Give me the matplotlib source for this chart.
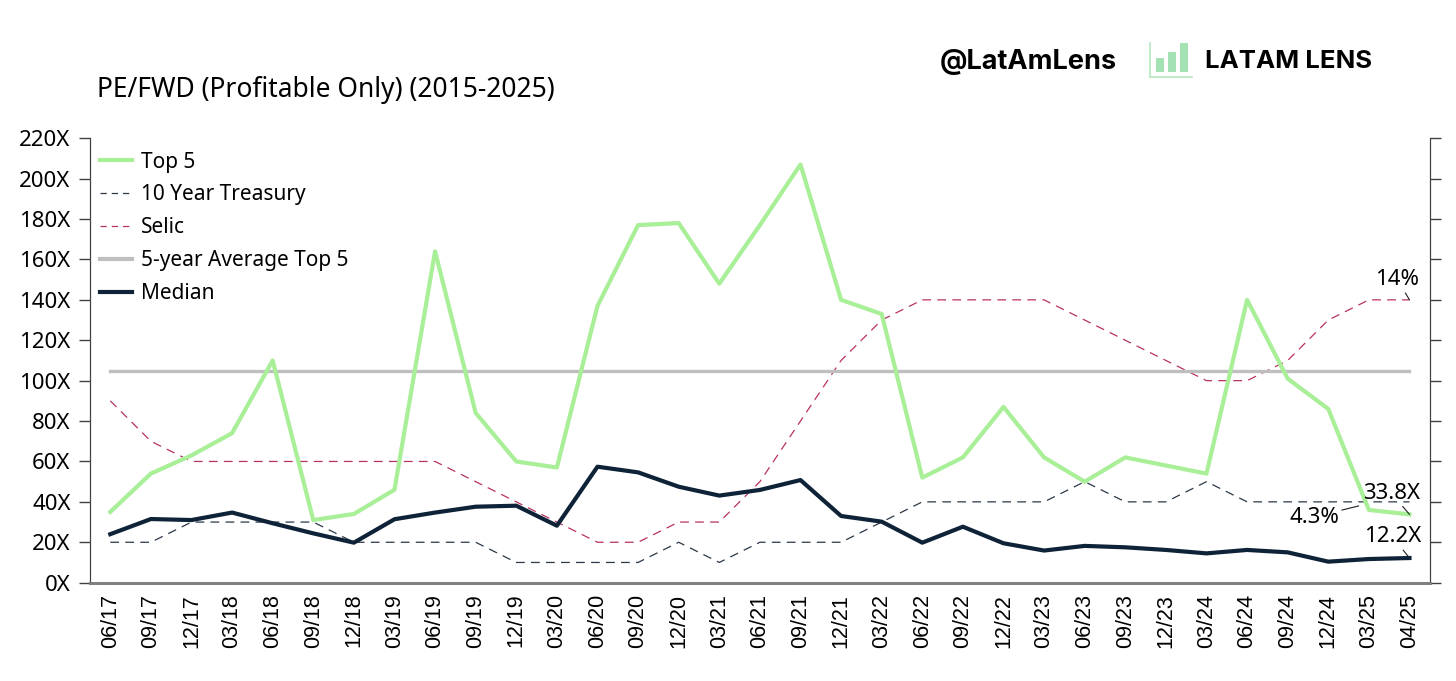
import numpy as np
import matplotlib
matplotlib.use('Agg')
import matplotlib.pyplot as plt
from matplotlib.lines import Line2D

# quarterly points
dates = ['06/17', '09/17', '12/17', '03/18', '06/18', '09/18', '12/18', '03/19',
         '06/19', '09/19', '12/19', '03/20', '06/20', '09/20', '12/20', '03/21',
         '06/21', '09/21', '12/21', '03/22', '06/22', '09/22', '12/22', '03/23',
         '06/23', '09/23', '12/23', '03/24', '06/24', '09/24', '12/24', '03/25',
         '04/25']

top5 = [35, 54, 63, 74, 110, 31, 34, 46, 164, 84, 60, 57, 137, 177, 178, 148,
        177, 207, 140, 133, 52, 62, 87, 62, 50, 62, 58, 54, 140, 101, 86, 36, 33.8]
median = [24, 31.5, 31, 34.7, 29.4, 24.4, 19.8, 31.4, 34.7, 37.6, 38.1, 28.2,
          57.4, 54.6, 47.5, 43.1, 45.9, 50.8, 33, 30.2, 19.8, 27.7, 19.5, 15.9,
          18.2, 17.5, 16.2, 14.5, 16.2, 15, 10.4, 11.7, 12.2]
avg5y = [105] * len(dates)
# rates in %, right axis (unlabelled)
treasury = [2, 2, 3, 3, 3, 3, 2, 2, 2, 2, 1, 1, 1, 1, 2, 1, 2, 2, 2, 3, 4, 4,
            4, 4, 5, 4, 4, 5, 4, 4, 4, 4, 4]
selic = [9, 7, 6, 6, 6, 6, 6, 6, 6, 5, 4, 3, 2, 2, 3, 3, 5, 8, 11, 13, 14, 14,
         14, 14, 13, 12, 11, 10, 10, 11, 13, 14, 14]

c_top5 = '#a8ef98'
c_median = '#0e2238'
c_selic = '#b8325e'
c_tsy = '#2a3848'
c_avg = '#bfbfbf'
font = 'Noto Sans'

fig = plt.figure(figsize=(14.56, 6.81), dpi=100)
ax = fig.add_axes([0.0618, 0.1444, 0.9202, 0.6526])
ax2 = ax.twinx()

x = np.arange(len(dates))
ax.plot(x, avg5y, color=c_avg, lw=2.4, zorder=2)
ax2.plot(x, treasury, color=c_tsy, lw=0.9, dashes=(7, 5))
ax2.plot(x, selic, color=c_selic, lw=0.9, dashes=(7, 5))
ax.plot(x, top5, color=c_top5, lw=3, zorder=3)
ax.plot(x, median, color=c_median, lw=3, zorder=4)

ax.set_zorder(ax2.get_zorder() + 1)
ax.patch.set_visible(False)

ax.set_xlim(-0.5, len(dates) - 0.5)
ax.set_ylim(0, 220)
ax2.set_ylim(0, 22)
ax.set_yticks(np.arange(0, 221, 20))
ax.set_yticklabels([f'{v}X' for v in range(0, 221, 20)], fontsize=16, family=font)
ax2.set_yticks(np.arange(0, 23, 2))
ax2.set_yticklabels([])
ax.set_xticks(x)
ax.set_xticklabels(dates, rotation=90, fontsize=15.5, family='Liberation Sans')
ax.tick_params(axis='x', length=0, pad=8)
ax.tick_params(axis='y', length=8, width=1, color='#404040', pad=6)
ax2.tick_params(axis='y', length=8, width=1, color='#404040')

for a in (ax, ax2):
    a.spines['top'].set_visible(False)
    a.spines['left'].set_color('#404040')
    a.spines['right'].set_color('#404040')
    a.spines['bottom'].set_color('#808080')
    a.spines['bottom'].set_linewidth(2)

handles = [
    Line2D([], [], color=c_top5, lw=3),
    Line2D([], [], color=c_tsy, lw=0.9, dashes=(5, 4)),
    Line2D([], [], color=c_selic, lw=0.9, dashes=(5, 4)),
    Line2D([], [], color=c_avg, lw=3),
    Line2D([], [], color=c_median, lw=3),
]
labels = ['Top 5', '10 Year Treasury', 'Selic', '5-year Average Top 5', 'Median']
ax.legend(handles, labels, loc='upper left', frameon=False,
          prop={'family': font, 'size': 15}, handlelength=1.55,
          handletextpad=0.4, labelspacing=0.57, borderpad=0, borderaxespad=0,
          bbox_to_anchor=(0.0075, 0.97))

# end labels
last = len(dates) - 1
lbl = dict(fontsize=16, family=font, ha='center', va='center',
           arrowprops=dict(arrowstyle='-', color='#202020', lw=0.8,
                           shrinkA=0, shrinkB=0))
ax2.annotate('14%', xy=(last, selic[-1]), xytext=(last - 0.3, selic[-1] + 1.0), **lbl)
ax.annotate('33.8X', xy=(last, top5[-1]), xytext=(last - 0.45, top5[-1] + 10.5), **lbl)
ax.annotate('12.2X', xy=(last, median[-1]), xytext=(last - 0.42, median[-1] + 10.5), **lbl)
ax2.annotate('4.3%', xy=(last - 1.25, 3.8), xytext=(last - 2.35, 3.25), **lbl)

fig.text(0.0666, 0.868, 'PE/FWD (Profitable Only) (2015-2025)', fontsize=19,
         family=font, va='center')

# branding
fig.text(0.767, 0.909, '@LatAmLens', fontsize=19.5, fontweight='bold',
         family='Inter', ha='right', va='center')
logo = fig.add_axes([0.7898, 0.887, 0.0288, 0.0499])
logo.bar([10, 22, 34], [14, 20.7, 29.5], bottom=4.5, color='#a3e2b3', width=8)
logo.set_xlim(0, 42)
logo.set_ylim(0, 34)
logo.set_xticks([])
logo.set_yticks([])
for s in ('top', 'right'):
    logo.spines[s].set_visible(False)
for s in ('left', 'bottom'):
    logo.spines[s].set_color('#b6e8c2')
    logo.spines[s].set_linewidth(1.2)
logo.patch.set_visible(False)
fig.text(0.8276, 0.909, 'LATAM LENS', fontsize=18.5, fontweight='bold',
         family='Inter', ha='left', va='center')

fig.savefig('out.png', dpi=100, facecolor='white')
